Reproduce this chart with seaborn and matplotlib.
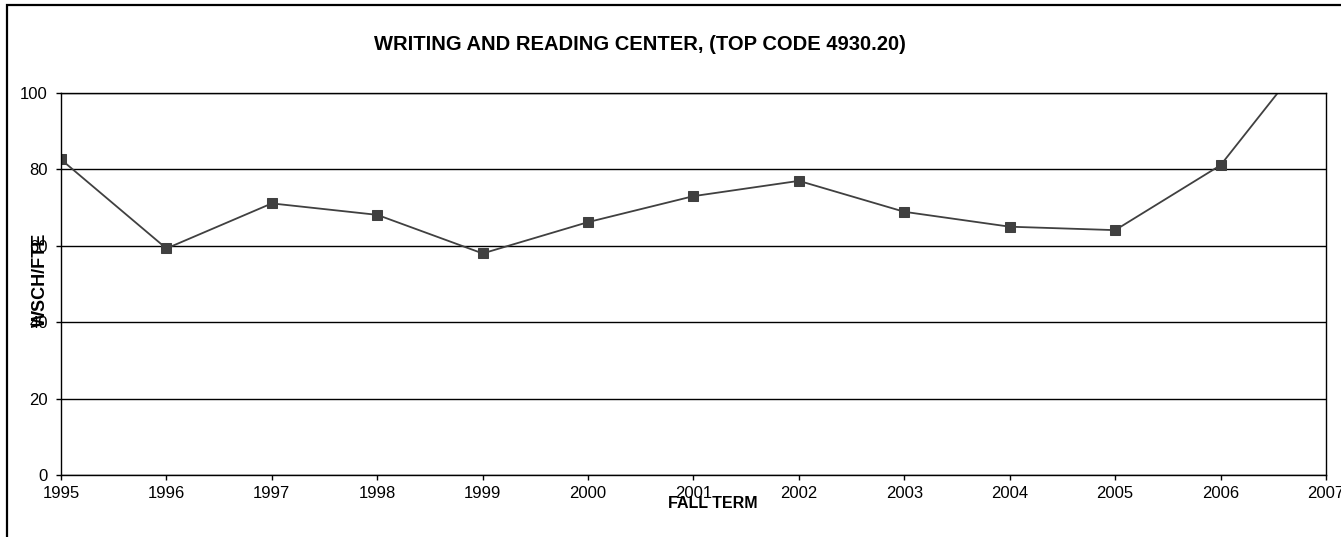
import matplotlib
matplotlib.use("Agg")
import matplotlib.pyplot as plt
import matplotlib.patches as mpatches
import seaborn as sns
import pandas as pd

years = [1995, 1996, 1997, 1998, 1999, 2000, 2001, 2002, 2003, 2004, 2005, 2006, 2007]
wsch_fte = [82.6, 59.3, 71.1, 68.1, 58.0, 66.2, 73.0, 77.0, 68.9, 65.0, 64.1, 81.1, 116.0]
y_ticks = [0, 20, 40, 60, 80, 100]

title = "WRITING AND READING CENTER, (TOP CODE 4930.20)"
x_label = "FALL TERM"
y_label = "WSCH/FTE"

sns.set_theme(style="white")
plt.rcParams['font.family'] = ['Liberation Sans', 'DejaVu Sans']

df = pd.DataFrame({"year": years, "value": wsch_fte})

W, H = 1341, 537
fig = plt.figure(figsize=(W / 100, H / 100), dpi=100)
fig.patch.set_facecolor("white")
ax = fig.add_axes([61 / W, 1 - 475 / H, (1326 - 61) / W, (475 - 93) / H])

sns.lineplot(data=df, x="year", y="value", ax=ax, color="#404040", linewidth=1.3,
             marker="s", markersize=6.5, markeredgecolor="#404040",
             markerfacecolor="#404040")

ax.set_xlim(1995, 2007)
ax.set_ylim(0, 100)
ax.set_xticks(years)
ax.set_xticklabels([str(y) for y in years])
ax.set_yticks(y_ticks)
ax.set_yticklabels([str(v) for v in y_ticks])
ax.yaxis.grid(True, color="black", linewidth=1.0)
ax.xaxis.grid(False)
ax.set_axisbelow(True)
for s in ax.spines.values():
    s.set_visible(True)
    s.set_color("black")
    s.set_linewidth(1.0)
ax.tick_params(axis="both", which="both", direction="out", length=3.6, width=1,
               color="black", labelsize=12, labelcolor="black")
ax.tick_params(axis="y", pad=6)
ax.tick_params(axis="x", pad=4.5, bottom=True)
ax.tick_params(axis="y", left=True)
ax.set_xlabel("")
ax.set_ylabel("")

fig.text(640 / W, 1 - 45 / H, title, ha="center", va="center",
         fontsize=14.5, fontweight="bold", color="black")
fig.text(713 / W, 1 - 503 / H, x_label, ha="center", va="center",
         fontsize=11.5, fontweight="bold", color="black")
fig.text(40 / W, 1 - 280 / H, y_label, ha="center", va="center", rotation=90,
         fontsize=13, fontweight="bold", color="black")

border = mpatches.Rectangle((6.5 / W, -0.2), 1.2, 1.2 - 4.5 / H, transform=fig.transFigure,
                            fill=False, edgecolor="black", linewidth=1.6, clip_on=False)
fig.patches.append(border)

fig.savefig("out.png", dpi=100, facecolor="white")
